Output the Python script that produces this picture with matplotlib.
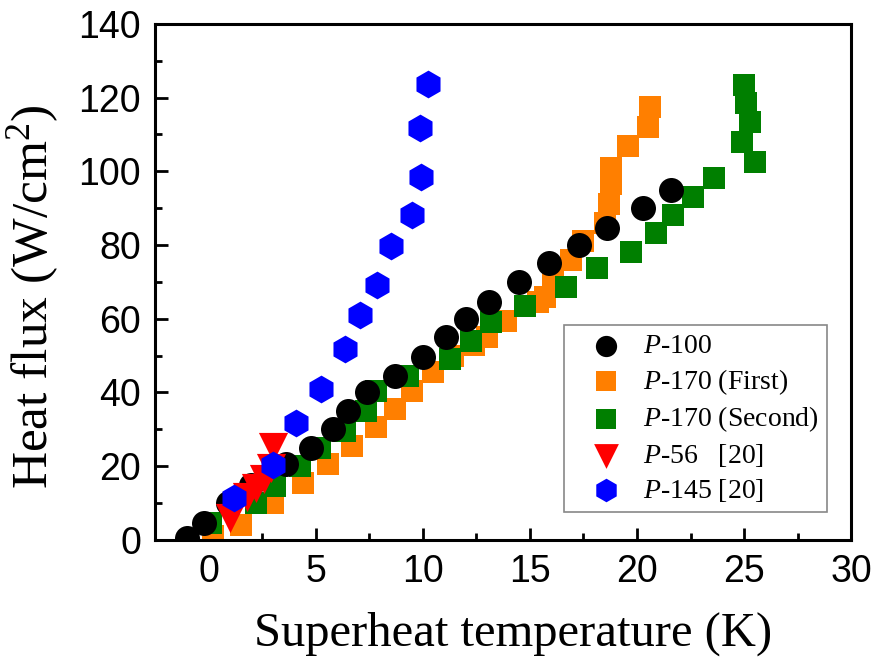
import numpy as np
import matplotlib
matplotlib.use("Agg")
import matplotlib.pyplot as plt

# fonts: Times-like for labels, Arial-like for tick numbers
plt.rcParams['mathtext.fontset'] = 'custom'
plt.rcParams['mathtext.rm'] = 'Liberation Serif'
plt.rcParams['mathtext.it'] = 'Liberation Serif:italic'

# P-100
p100_x = [-1.0, -0.2, 0.9, 2.0, 3.6, 4.8, 5.8, 6.5, 7.4, 8.7, 10.0, 11.1, 12.0, 13.1, 14.5, 15.9, 17.3, 18.6, 20.3, 21.6]
p100_y = [0.5, 4.5, 10, 15, 20.5, 25, 30, 35, 40, 44.5, 49.5, 55, 60, 64.5, 70, 75, 80, 84.5, 90, 95]

# P-170 (First)
p170a_x = [0.2, 1.5, 3.0, 4.4, 5.6, 6.7, 7.8, 8.7, 9.5, 10.5, 11.4, 12.4, 13.0, 13.9, 15.4, 15.7, 16.1, 16.9, 17.5, 18.5, 18.7, 18.8, 18.8, 19.6, 20.5, 20.6]
p170a_y = [1, 4, 10, 15.5, 20.5, 25.5, 30.5, 35.5, 40.5, 45.5, 50, 53, 55, 59.5, 64.5, 66, 71, 76, 81, 86, 91, 96.5, 101, 107, 112, 117.5]

# P-170 (Second)
p170b_x = [0.1, 2.2, 3.1, 4.25, 5.2, 6.35, 7.35, 7.8, 9.3, 11.25, 12.25, 13.2, 14.75, 16.7, 18.15, 19.7, 20.9, 21.7, 22.6, 23.6, 25.5, 24.9, 25.25, 25.1, 25.0]
p170b_y = [4.5, 10, 14.5, 20, 25, 29.5, 35, 40.5, 44.5, 49, 54, 59, 63.5, 68.7, 73.8, 78.2, 83.3, 88.2, 93.1, 98.2, 102.6, 108, 113.5, 118.5, 123.3]

# P-56 [20]
p56_x = [1.0, 1.8, 2.2, 2.6, 2.9, 3.0]
p56_y = [6, 11.5, 14, 16.5, 19.5, 25.3]

# P-145 [20]
p145_x = [1.2, 3.0, 4.1, 5.25, 6.35, 7.05, 7.85, 8.5, 9.5, 9.9, 9.85, 10.25]
p145_y = [11.4, 20.3, 31.7, 41, 51.8, 61, 69.2, 79.6, 88.2, 98.4, 111.8, 123.7]

fig = plt.figure(figsize=(8.75, 6.64), dpi=100)
ax = fig.add_axes([0.177, 0.187, 0.796, 0.777])

ax.scatter(p170a_x, p170a_y, s=16.3**2, marker='s', color='#ff7f00', linewidths=0, label=r'$P$-170 (First)', zorder=2)
ax.scatter(p170b_x, p170b_y, s=16.3**2, marker='s', color='#007f00', linewidths=0, label=r'$P$-170 (Second)', zorder=3)
ax.scatter(p100_x, p100_y, s=18**2, marker='o', color='black', linewidths=0, label=r'$P$-100', zorder=4)
ax.scatter(p56_x, p56_y, s=21**2, marker='v', color='red', linewidths=0, label=r'$P$-56   [20]', zorder=5)
ax.scatter(p145_x, p145_y, s=20**2, marker='h', color='blue', linewidths=0, label=r'$P$-145 [20]', zorder=6)

ax.set_xlim(-2.5, 30)
ax.set_ylim(0, 140)
ax.set_xticks(np.arange(0, 31, 5))
ax.set_xticks(np.arange(-2.5, 30, 2.5), minor=True)
ax.set_yticks(np.arange(0, 141, 20))
ax.set_yticks(np.arange(0, 141, 10), minor=True)
ax.tick_params(which='both', direction='in', width=2, top=False, right=False)
ax.tick_params(which='major', length=9, labelsize=27, pad=10)
ax.tick_params(which='minor', length=5)
for lab in ax.get_xticklabels() + ax.get_yticklabels():
    lab.set_fontfamily('Liberation Sans')
for sp in ax.spines.values():
    sp.set_linewidth(2.2)

ax.set_xlabel('Superheat temperature (K)', fontsize=35, family='Liberation Serif')
ax.set_ylabel(r'Heat flux (W/cm$^2$)', fontsize=37, family='Liberation Serif')
ax.xaxis.set_label_coords(0.514, -0.14)
ax.yaxis.set_label_coords(-0.135, 0.471)

# legend order as in the picture
h, l = ax.get_legend_handles_labels()
order = [2, 0, 1, 3, 4]
leg = ax.legend([h[i] for i in order], [l[i] for i in order], loc='lower right',
                bbox_to_anchor=(0.9655, 0.054), borderaxespad=0, fontsize=20,
                markerscale=0.85, handlelength=2.4, handletextpad=0.15,
                fancybox=False, edgecolor='#888888', framealpha=1,
                labelspacing=0.28, borderpad=0.3)
leg.get_frame().set_linewidth(1.2)
for t in leg.get_texts():
    t.set_fontfamily('Liberation Serif')

fig.savefig('out.png', dpi=100)
